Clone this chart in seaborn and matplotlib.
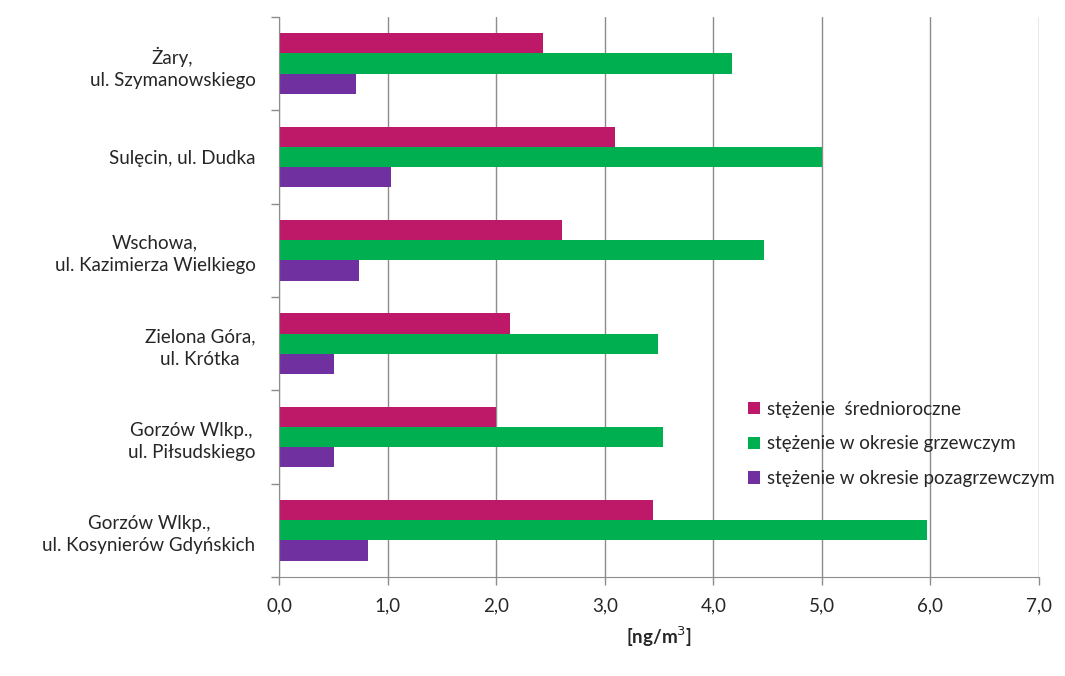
import matplotlib.pyplot as plt
import seaborn as sns
import pandas as pd
from matplotlib.ticker import FixedLocator

stations = ['Żary,\nul. Szymanowskiego', 'Sulęcin, ul. Dudka', 'Wschowa,\nul. Kazimierza Wielkiego',
            'Zielona Góra,\nul. Krótka', 'Gorzów Wlkp.,\nul. Piłsudskiego',
            'Gorzów Wlkp.,\nul. Kosynierów Gdyńskich']
series = ['stężenie  średnioroczne', 'stężenie w okresie grzewczym', 'stężenie w okresie pozagrzewczym']
annual = [2.43, 3.09, 2.61, 2.13, 2.00, 3.44]
heating = [4.17, 5.00, 4.47, 3.49, 3.54, 5.97]
nonheating = [0.71, 1.03, 0.74, 0.51, 0.51, 0.82]
colors = ['#BE1868', '#00B050', '#7030A0']

df = pd.DataFrame({'station': stations * 3,
                   'series': [series[0]] * 6 + [series[1]] * 6 + [series[2]] * 6,
                   'value': annual + heating + nonheating})

sns.set_style('white')
plt.rcParams['font.family'] = ['Lato', 'DejaVu Sans']
fs = 13.5

fig = plt.figure(figsize=(10.65, 6.76), dpi=100)
ax = fig.add_axes([0.262, 0.1464, 0.7136, 0.8286])
sns.barplot(data=df, y='station', x='value', hue='series', palette=colors,
            orient='h', width=0.65, saturation=1, linewidth=0, ax=ax, legend=True)

ax.set_xlim(0, 7)
ax.set_xticks(range(8))
ax.set_xticklabels([f'{i},0' for i in range(8)], fontsize=fs)
ax.set_ylim(5.5, -0.5)
ax.tick_params(axis='y', which='major', left=False, length=0, labelsize=fs, pad=17)
for lbl in ax.get_yticklabels():
    lbl.set_multialignment('center')
    lbl.set_linespacing(1.4)
ax.yaxis.set_minor_locator(FixedLocator([i + 0.5 for i in range(-1, 6)]))
ax.tick_params(axis='y', which='minor', left=True, length=6, color='#8c8c8c', width=1)
ax.tick_params(axis='x', bottom=True, length=6, color='#8c8c8c', width=1, pad=9)
ax.grid(axis='x', color='#8c8c8c', linewidth=1)
ax.set_axisbelow(True)
for s in ['top', 'right']:
    ax.spines[s].set_visible(False)
for s in ['left', 'bottom']:
    ax.spines[s].set_color('#8c8c8c')
ax.set_ylabel('')
ax.set_xlabel('[ng/m$^3$]', fontsize=fs, fontweight='bold')
ax.xaxis.set_label_coords(0.5, -0.085)

ax.legend(loc='upper left', bbox_to_anchor=(0.595, 0.345), frameon=False, fontsize=fs,
          handlelength=0.65, handleheight=0.65, handletextpad=0.35, labelspacing=0.95)

fig.savefig('out.png', dpi=100)
